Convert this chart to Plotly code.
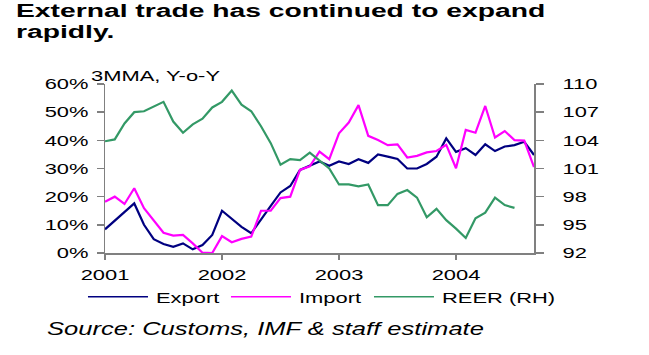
import plotly.graph_objects as go

# ---- data (monthly, Jan 2001 .. Sep 2004) ----
months = list(range(45))
year_ticks = [0, 12, 24, 36]
year_labels = ["2001", "2002", "2003", "2004"]

export_yoy = [8.4, 11.5, 14.6, 17.6, 10.0, 4.9, 3.2, 2.2, 3.4, 1.3,
              2.8, 6.4, 15.0, 12.3, 9.3, 7.0, 12.0, 16.7, 21.5, 23.8,
              29.5, 31.0, 32.5, 31.0, 32.5, 31.6, 33.3, 32.0, 35.0, 34.2,
              33.4, 30.0, 30.0, 31.6, 34.2, 40.7, 35.9, 37.2, 34.8, 38.6,
              36.2, 37.8, 38.3, 39.5, 34.8]

import_yoy = [18.2, 20.0, 17.4, 23.0, 15.9, 11.7, 7.2, 6.2, 6.4, 3.4,
              0.1, 0.0, 6.0, 3.8, 5.0, 5.8, 15.0, 15.0, 19.5, 20.0,
              29.5, 30.8, 36.0, 33.3, 42.5, 46.3, 52.5, 41.6, 40.1, 38.3,
              38.6, 33.9, 34.5, 35.7, 36.2, 38.4, 30.1, 43.7, 42.7, 52.2,
              41.0, 43.3, 40.1, 39.9, 30.5]

reer = [103.9, 104.1, 105.8, 107.0, 107.1, 107.6, 108.1, 106.0, 104.8, 105.7,
        106.3, 107.5, 108.1, 109.3, 107.8, 107.1, 105.5, 103.7, 101.4, 102.0,
        101.9, 102.7, 101.8, 101.0, 99.3, 99.3, 99.1, 99.3, 97.1, 97.1,
        98.3, 98.7, 97.9, 95.8, 96.7, 95.5, 94.6, 93.6, 95.7, 96.3,
        97.9, 97.1, 96.8]

pct_ticks = [0, 10, 20, 30, 40, 50, 60]
pct_labels = ["0%", "10%", "20%", "30%", "40%", "50%", "60%"]
reer_ticks = [92, 95, 98, 101, 104, 107, 110]
reer_labels = ["92", "95", "98", "101", "104", "107", "110"]

FONT = "Liberation Sans, Arial, sans-serif"
AXC = "#808080"

fig = go.Figure()
fig.add_trace(go.Scatter(x=months, y=export_yoy, name="Export", mode="lines",
                         line=dict(color="#000080", width=2.2)))
fig.add_trace(go.Scatter(x=months, y=import_yoy, name="Import", mode="lines",
                         line=dict(color="#FF00FF", width=2.2)))
fig.add_trace(go.Scatter(x=months[:len(reer)], y=reer, name="REER (RH)", mode="lines",
                         line=dict(color="#339966", width=2.2), yaxis="y2"))

axis_common = dict(showline=True, linecolor=AXC, linewidth=1.5, ticks="outside",
                   tickcolor=AXC, tickwidth=1.5, showgrid=False, zeroline=False,
                   tickfont=dict(family=FONT, size=15, color="#000"))

fig.update_layout(
    width=649, height=355,
    margin=dict(l=105, r=115, t=84, b=102, autoexpand=False),
    paper_bgcolor="white", plot_bgcolor="white",
    font=dict(family=FONT, size=15, color="#000"),
    hovermode=False,
    xaxis=dict(range=[0, 44], tickmode="array", tickvals=year_ticks, ticktext=year_labels,
               ticklen=5, ticklabelstandoff=2, **axis_common),
    yaxis=dict(range=[0, 60], tickmode="array", tickvals=pct_ticks, ticktext=pct_labels,
               ticklen=7, ticklabelstandoff=5, **axis_common),
    yaxis2=dict(range=[92, 110], tickmode="array", tickvals=reer_ticks, ticktext=reer_labels,
                overlaying="y", side="right", anchor="x",
                ticklen=8, ticklabelstandoff=16, **axis_common),
    showlegend=True,
    legend=dict(orientation="h", x=0.0256, xanchor="left", y=-0.26, yanchor="middle",
                itemwidth=30, entrywidth=98, tracegroupgap=0,
                font=dict(family=FONT, size=15, color="#000"),
                bgcolor="rgba(0,0,0,0)"),
    annotations=[
        dict(text="External trade has continued to expand", xref="paper", yref="paper",
             x=-0.2098, y=1.432, xanchor="left", yanchor="middle", align="left",
             showarrow=False, borderpad=0,
             font=dict(family=FONT, size=18, color="#000", weight="bold")),
        dict(text="rapidly.", xref="paper", yref="paper",
             x=-0.2098, y=1.308, xanchor="left", yanchor="middle", align="left",
             showarrow=False, borderpad=0,
             font=dict(family=FONT, size=18, color="#000", weight="bold")),
        dict(text="3MMA, Y-o-Y", xref="paper", yref="paper",
             x=-0.035, y=1.053, xanchor="left", yanchor="middle", align="left",
             showarrow=False, borderpad=0, font=dict(family=FONT, size=15, color="#000")),
        dict(text="Source: Customs, IMF & staff estimate", xref="paper", yref="paper",
             x=-0.1375, y=-0.45, xanchor="left", yanchor="middle", align="left",
             showarrow=False, borderpad=0,
             font=dict(family=FONT, size=17.5, color="#000", style="italic")),
    ],
)

# page: no body margin; the reference's lettering is horizontally stretched,
# so widen the glyphs the same way, and use long thin legend keys
page_js = """
(function(){
  document.body.style.margin = '0';
  document.querySelectorAll('svg.main-svg text').forEach(function(t){
    if (t.getAttribute('data-st')) return;
    var bold = parseInt(getComputedStyle(t).fontWeight, 10) >= 600;
    var f = bold ? 1.57 : 1.46;
    var w = t.getComputedTextLength();
    if (w > 0) {
      t.setAttribute('textLength', (w * f).toFixed(1));
      t.setAttribute('lengthAdjust', 'spacingAndGlyphs');
      t.setAttribute('data-st', '1');
    }
  });
  document.querySelectorAll('.legend [clip-path]').forEach(function(e){
    e.removeAttribute('clip-path');
  });
  document.querySelectorAll('.legend .traces').forEach(function(g){
    var t = g.querySelector('text.legendtext');
    var p = g.querySelector('path.js-line');
    if (!t || !p) return;
    var bb = t.getBBox();
    var tc = t.getScreenCTM(), pc = p.getScreenCTM();
    var sx = tc.a * bb.x + tc.e;
    var lx = (sx - pc.e) / pc.a;
    p.setAttribute('d', 'M' + (lx - 68).toFixed(1) + ',0h60');
    p.style.strokeWidth = '1.5px';
  });
})();
"""

fig.write_html("out.html", post_script=page_js,
               config={"displayModeBar": False, "staticPlot": True})
